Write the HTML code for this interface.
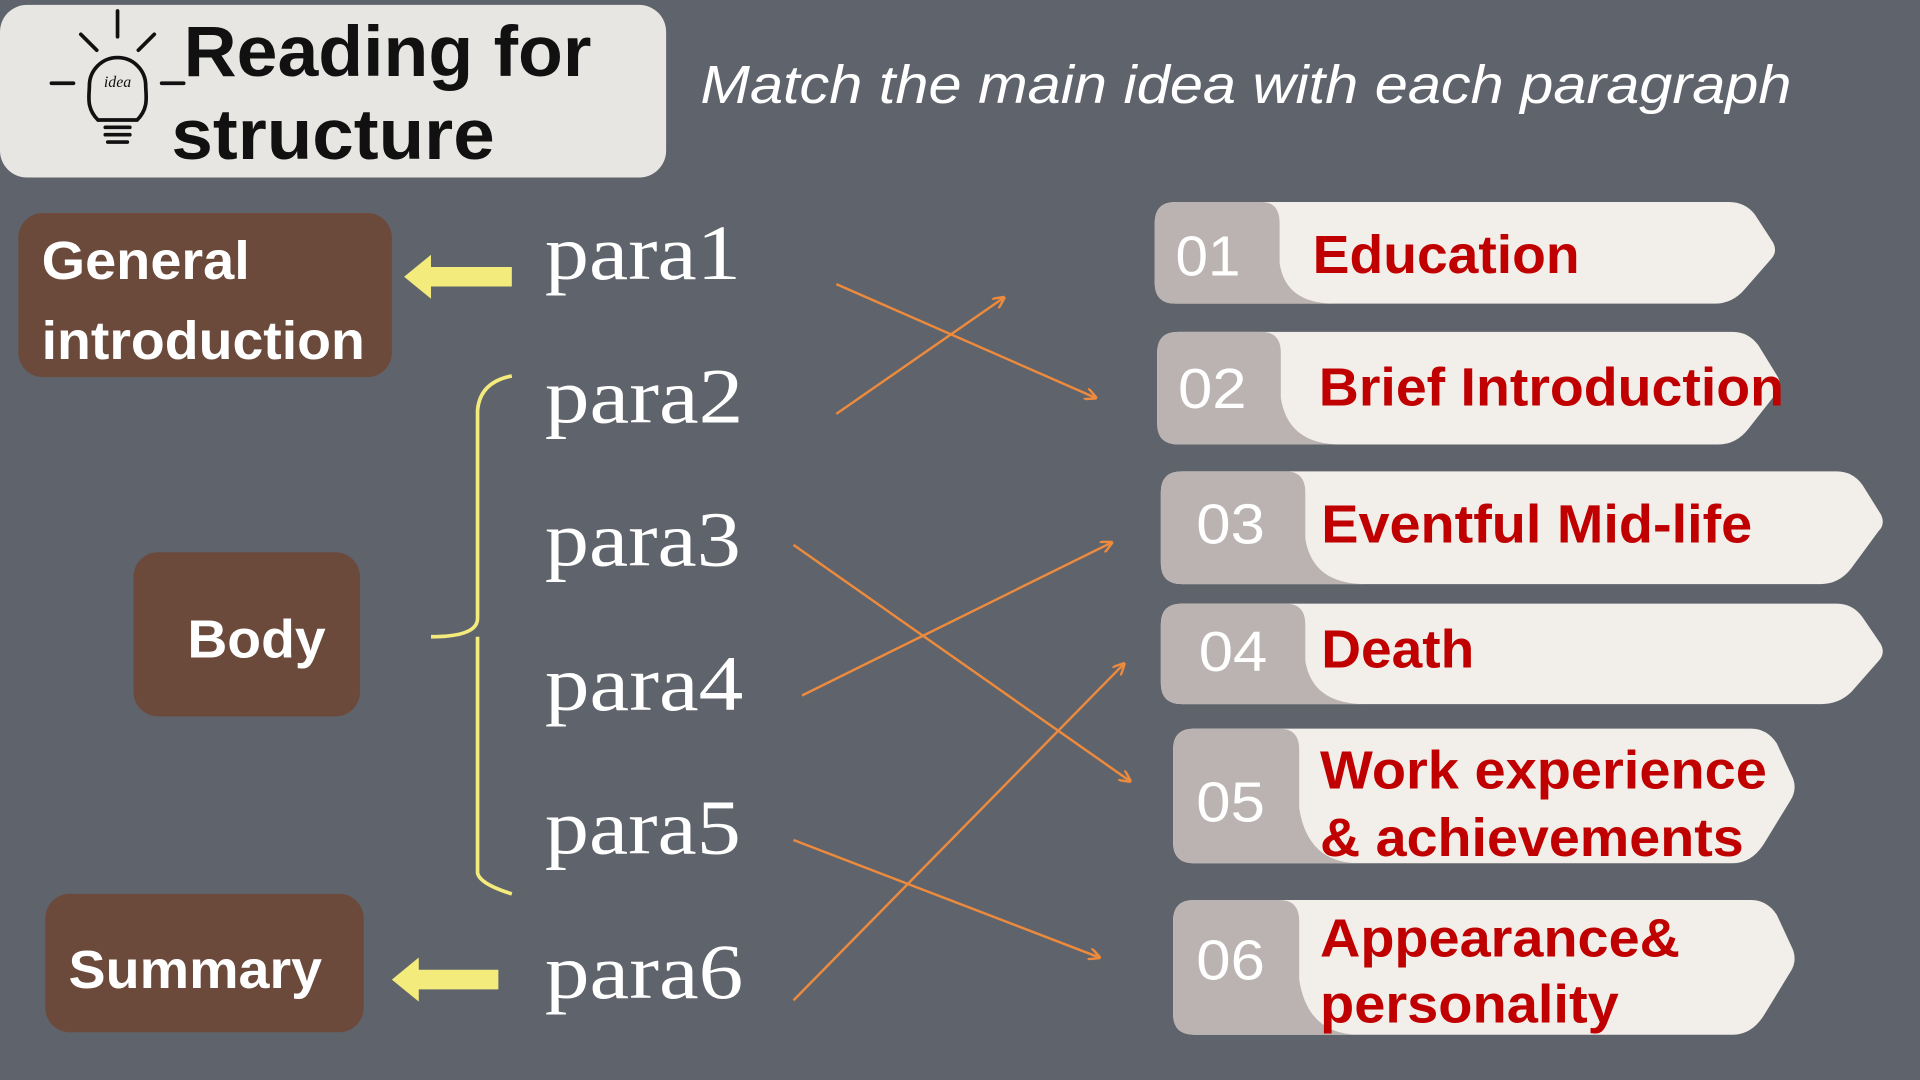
<!DOCTYPE html>
<html><head><meta charset="utf-8"><style>
html,body{margin:0;padding:0;background:#5f636b;width:1920px;height:1080px;overflow:hidden}
svg{display:block}
</style></head><body>
<svg width="1920" height="1080" viewBox="0 0 1568 882" preserveAspectRatio="none" xmlns="http://www.w3.org/2000/svg">
<rect width="1568" height="882" fill="#5f636b"/>
<defs>
<marker id="ah" markerWidth="10" markerHeight="10" refX="9" refY="5" orient="auto" markerUnits="userSpaceOnUse" viewBox="0 0 10 10">
<path d="M0,0 L10,5 L0,10" fill="none" stroke="#ec8a3d" stroke-width="2"/>
</marker>
</defs>
<rect x="0" y="4" width="544" height="141" rx="22" fill="#e8e6e3"/>
<g stroke="#111" stroke-width="3" fill="none" stroke-linecap="round">
<line x1="96" y1="9" x2="96" y2="30"/><line x1="66" y1="28" x2="79" y2="41"/><line x1="126" y1="28" x2="113" y2="41"/>
<line x1="42" y1="68" x2="60" y2="68"/><line x1="132" y1="68" x2="150" y2="68"/>
<path d="M80,98 C70,88 73,78 73,70 A23,23 0 1 1 119,70 C119,78 122,88 112,98 Z"/>
<line x1="86" y1="104" x2="106" y2="104"/><line x1="86" y1="110" x2="106" y2="110"/><line x1="88" y1="116" x2="104" y2="116"/>
</g>
<text x="96" y="71" font-family="Liberation Serif,serif" font-style="italic" font-size="13" text-anchor="middle" fill="#111">idea</text>
<g lengthAdjust="spacingAndGlyphs">
<text x="150" y="62" font-family="Liberation Sans,sans-serif" font-weight="bold" font-size="58" fill="#111" textLength="333" lengthAdjust="spacingAndGlyphs">Reading for</text>
<text x="140" y="130" font-family="Liberation Sans,sans-serif" font-weight="bold" font-size="58" fill="#111" textLength="264" lengthAdjust="spacingAndGlyphs">structure</text>
<text x="572" y="84" font-family="Liberation Sans,sans-serif" font-style="italic" font-size="44" fill="#fff" textLength="891" lengthAdjust="spacingAndGlyphs">Match the main idea with each paragraph</text>
</g>
<g font-family="Liberation Sans,sans-serif" font-weight="bold" font-size="44" fill="#fff">
<rect x="15" y="174" width="305" height="134" rx="20" fill="#6b4a3b"/>
<text x="34" y="228" textLength="170" lengthAdjust="spacingAndGlyphs">General</text><text x="34" y="293" textLength="264" lengthAdjust="spacingAndGlyphs">introduction</text>
<rect x="109" y="451" width="185" height="134" rx="20" fill="#6b4a3b"/>
<text x="153" y="537" textLength="113" lengthAdjust="spacingAndGlyphs">Body</text>
<rect x="37" y="730" width="260" height="113" rx="20" fill="#6b4a3b"/>
<text x="56" y="807" textLength="207" lengthAdjust="spacingAndGlyphs">Summary</text>
</g>
<g fill="#f3eb7c">
<path d="M418,218 L352,218 L352,208 L330,226 L352,244 L352,234 L418,234 Z"/>
<path d="M407,792 L342,792 L342,782 L320,800 L342,818 L342,808 L407,808 Z"/>
</g>
<path d="M418,307 Q392,312 390,335 L390,505 Q390,520 352,520 M390,520 L390,713 Q392,722 418,730" fill="none" stroke="#f3eb7c" stroke-width="3"/>
<g font-family="Liberation Serif,serif" font-size="64" fill="#fff">
<text x="445" y="228" textLength="160" lengthAdjust="spacingAndGlyphs">para1</text><text x="445" y="345" textLength="162" lengthAdjust="spacingAndGlyphs">para2</text><text x="445" y="462" textLength="160" lengthAdjust="spacingAndGlyphs">para3</text>
<text x="445" y="580" textLength="162" lengthAdjust="spacingAndGlyphs">para4</text><text x="445" y="697" textLength="160" lengthAdjust="spacingAndGlyphs">para5</text><text x="445" y="815" textLength="162" lengthAdjust="spacingAndGlyphs">para6</text>
</g>
<g stroke="#ec8a3d" stroke-width="2" marker-end="url(#ah)">
<line x1="683" y1="232" x2="895" y2="325"/>
<line x1="683" y1="338" x2="820" y2="243"/>
<line x1="648" y1="445" x2="923" y2="638"/>
<line x1="655" y1="568" x2="908" y2="443"/>
<line x1="648" y1="686" x2="898" y2="782"/>
<line x1="648" y1="817" x2="918" y2="542"/>
</g>
<g font-family="Liberation Sans,sans-serif" font-weight="bold">
<path d="M960,165 L1412,165 Q1425,165 1433,175 L1448,198 Q1452,206 1446,212 L1425,236 Q1415,248 1400,248 L960,248 Q943,248 943,231 L943,182 Q943,165 960,165Z" fill="#f2eee9"/>
<path d="M960,165 L1030,165 Q1045,165 1045,182 L1045,215 Q1050,248 1090,248 L960,248 Q943,248 943,231 L943,182 Q943,165 960,165Z" fill="#bab3b1"/>
<text x="960" y="225" font-size="46" fill="#fff" font-weight="normal" textLength="53" lengthAdjust="spacingAndGlyphs">01</text>
<text x="1072" y="223" font-size="44" fill="#c00000" textLength="218" lengthAdjust="spacingAndGlyphs">Education</text>

<path d="M962,271 L1415,271 Q1428,271 1436,282 L1452,308 Q1456,316 1450,322 L1428,350 Q1418,363 1403,363 L962,363 Q945,363 945,346 L945,288 Q945,271 962,271Z" fill="#f2eee9"/>
<path d="M962,271 L1030,271 Q1046,271 1046,288 L1046,325 Q1052,363 1095,363 L962,363 Q945,363 945,346 L945,288 Q945,271 962,271Z" fill="#bab3b1"/>
<text x="962" y="333" font-size="46" fill="#fff" font-weight="normal" textLength="56" lengthAdjust="spacingAndGlyphs">02</text>
<text x="1077" y="331" font-size="44" fill="#c00000" textLength="380" lengthAdjust="spacingAndGlyphs">Brief Introduction</text>

<path d="M965,385 L1500,385 Q1513,385 1521,396 L1536,420 Q1540,428 1534,434 L1512,464 Q1502,477 1487,477 L965,477 Q948,477 948,460 L948,402 Q948,385 965,385Z" fill="#f2eee9"/>
<path d="M965,385 L1050,385 Q1066,385 1066,402 L1066,440 Q1072,477 1115,477 L965,477 Q948,477 948,460 L948,402 Q948,385 965,385Z" fill="#bab3b1"/>
<text x="977" y="444" font-size="46" fill="#fff" font-weight="normal" textLength="56" lengthAdjust="spacingAndGlyphs">03</text>
<text x="1079" y="443" font-size="44" fill="#c00000" textLength="352" lengthAdjust="spacingAndGlyphs">Eventful Mid-life</text>

<path d="M965,493 L1500,493 Q1513,493 1521,504 L1536,526 Q1540,534 1534,540 L1512,565 Q1502,575 1487,575 L965,575 Q948,575 948,558 L948,510 Q948,493 965,493Z" fill="#f2eee9"/>
<path d="M965,493 L1050,493 Q1066,493 1066,510 L1066,540 Q1072,575 1115,575 L965,575 Q948,575 948,558 L948,510 Q948,493 965,493Z" fill="#bab3b1"/>
<text x="979" y="548" font-size="46" fill="#fff" font-weight="normal" textLength="56" lengthAdjust="spacingAndGlyphs">04</text>
<text x="1079" y="545" font-size="44" fill="#c00000" textLength="125" lengthAdjust="spacingAndGlyphs">Death</text>

<path d="M975,595 L1430,595 Q1443,595 1451,607 L1464,635 Q1468,645 1462,654 L1440,690 Q1430,705 1415,705 L975,705 Q958,705 958,688 L958,612 Q958,595 975,595Z" fill="#f2eee9"/>
<path d="M975,595 L1045,595 Q1061,595 1061,612 L1061,660 Q1068,705 1110,705 L975,705 Q958,705 958,688 L958,612 Q958,595 975,595Z" fill="#bab3b1"/>
<text x="977" y="671" font-size="46" fill="#fff" font-weight="normal" textLength="56" lengthAdjust="spacingAndGlyphs">05</text>
<text x="1078" y="644" font-size="44" fill="#c00000" textLength="365" lengthAdjust="spacingAndGlyphs">Work experience</text>
<text x="1078" y="699" font-size="44" fill="#c00000" textLength="346" lengthAdjust="spacingAndGlyphs">&amp; achievements</text>

<path d="M975,735 L1430,735 Q1443,735 1451,747 L1464,775 Q1468,785 1462,794 L1440,830 Q1430,845 1415,845 L975,845 Q958,845 958,828 L958,752 Q958,735 975,735Z" fill="#f2eee9"/>
<path d="M975,735 L1045,735 Q1061,735 1061,752 L1061,800 Q1068,845 1110,845 L975,845 Q958,845 958,828 L958,752 Q958,735 975,735Z" fill="#bab3b1"/>
<text x="977" y="800" font-size="46" fill="#fff" font-weight="normal" textLength="56" lengthAdjust="spacingAndGlyphs">06</text>
<text x="1078" y="781" font-size="44" fill="#c00000" textLength="294" lengthAdjust="spacingAndGlyphs">Appearance&amp;</text>
<text x="1078" y="835" font-size="44" fill="#c00000" textLength="244" lengthAdjust="spacingAndGlyphs">personality</text>
</g>
</svg>
</body></html>
